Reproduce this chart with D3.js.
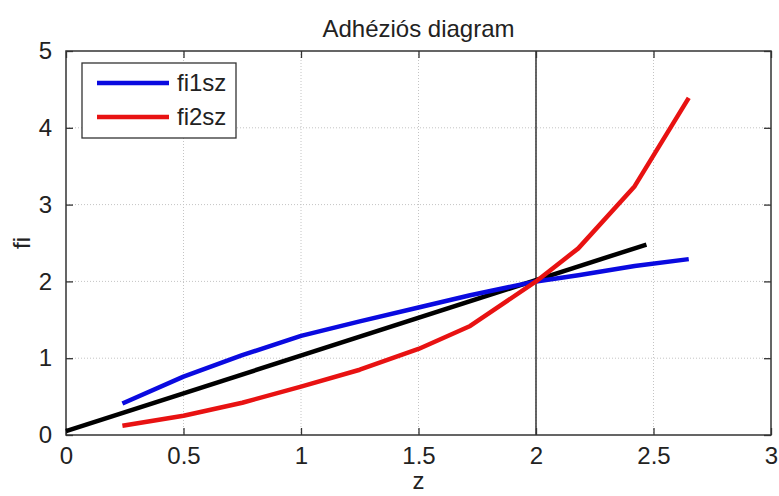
<!DOCTYPE html>
<html>
<head>
<meta charset="utf-8">
<script src="https://cdn.jsdelivr.net/npm/d3@7"></script>
<style>
  body { margin: 0; background: #fff; }
  text { font-family: "Liberation Sans", Arial, sans-serif; fill: #222; }
</style>
</head>
<body>
<div id="chart"></div>
<script>
// values
var zValues = [0.24, 0.5, 0.75, 1.0, 1.25, 1.5, 1.72, 2.0, 2.18, 2.42, 2.65];
var fi1sz = [0.41, 0.76, 1.04, 1.29, 1.48, 1.66, 1.82, 2.0, 2.08, 2.2, 2.29];
var fi2sz = [0.12, 0.25, 0.42, 0.63, 0.85, 1.12, 1.42, 2.0, 2.43, 3.24, 4.39];
var diagZ = [0, 2.47];
var diagFi = [0.05, 2.48];
var xTicks = [0, 0.5, 1, 1.5, 2, 2.5, 3];
var yTicks = [0, 1, 2, 3, 4, 5];
var seriesNames = ["fi1sz", "fi2sz"];

var W = 779, H = 496;
var margin = { top: 51, left: 66, bottom: 61, right: 8 },
    width = W - margin.left - margin.right,
    height = H - margin.top - margin.bottom;

var svg = d3.select("#chart").append("svg")
    .attr("width", W)
    .attr("height", H);

var g = svg.append("g")
    .attr("transform", "translate(" + margin.left + "," + margin.top + ")");

var x = d3.scaleLinear().domain([0, 3]).range([0, width]);
var y = d3.scaleLinear().domain([0, 5]).range([height, 0]);

// dotted grid
g.selectAll(".gx").data(xTicks.slice(1, -1)).enter().append("line")
    .attr("x1", d => x(d)).attr("x2", d => x(d))
    .attr("y1", 0).attr("y2", height)
    .attr("stroke", "#c4c4c4").attr("stroke-dasharray", "1,2");
g.selectAll(".gy").data(yTicks.slice(1, -1)).enter().append("line")
    .attr("x1", 0).attr("x2", width)
    .attr("y1", d => y(d)).attr("y2", d => y(d))
    .attr("stroke", "#c4c4c4").attr("stroke-dasharray", "1,2");

// vertical line at z = 2
g.append("line")
    .attr("x1", x(2)).attr("x2", x(2))
    .attr("y1", y(0)).attr("y2", y(5))
    .attr("stroke", "#333").attr("stroke-width", 1.5);

// axes (matlab style, inward ticks on all sides)
var tk = 7;
var fmt = d3.format("~g");
var xAxisB = d3.axisBottom(x).tickValues(xTicks).tickSizeInner(-tk).tickSizeOuter(0).tickPadding(12).tickFormat(fmt);
var xAxisT = d3.axisTop(x).tickValues(xTicks).tickSizeInner(-tk).tickSizeOuter(0).tickFormat("");
var yAxisL = d3.axisLeft(y).tickValues(yTicks).tickSizeInner(-tk).tickSizeOuter(0).tickPadding(14).tickFormat(fmt);
var yAxisR = d3.axisRight(y).tickValues(yTicks).tickSizeInner(-tk).tickSizeOuter(0).tickFormat("");

g.append("g").attr("class", "axis").attr("transform", "translate(0," + height + ")").call(xAxisB);
g.append("g").attr("class", "axis").call(xAxisT);
g.append("g").attr("class", "axis").call(yAxisL);
g.append("g").attr("class", "axis").attr("transform", "translate(" + width + ",0)").call(yAxisR);

g.selectAll(".axis .domain").remove();
g.selectAll(".axis line").attr("stroke", "#333").attr("stroke-width", 1.3);
g.selectAll(".axis text")
    .style("font-size", "24px")
    .style("font-family", "'Liberation Sans', Arial, sans-serif")
    .attr("fill", "#222");

g.append("rect")
    .attr("width", width).attr("height", height)
    .attr("fill", "none").attr("stroke", "#333").attr("stroke-width", 1.5);

// curves
var line = d3.line()
    .x(d => x(d[0]))
    .y(d => y(d[1]));

g.append("path")
    .datum(d3.zip(diagZ, diagFi))
    .attr("d", line)
    .attr("fill", "none").attr("stroke", "#000").attr("stroke-width", 4.5);

g.append("path")
    .datum(d3.zip(zValues, fi1sz))
    .attr("d", line)
    .attr("fill", "none").attr("stroke", "#0a0ae0").attr("stroke-width", 4.5)
    .attr("stroke-linejoin", "round");

g.append("path")
    .datum(d3.zip(zValues, fi2sz))
    .attr("d", line)
    .attr("fill", "none").attr("stroke", "#e81212").attr("stroke-width", 4.5)
    .attr("stroke-linejoin", "round");

// legend
var colors = ["#0a0ae0", "#e81212"];
var leg = svg.append("g").attr("transform", "translate(82,63)");
leg.append("rect")
    .attr("width", 154).attr("height", 75)
    .attr("fill", "#fff").attr("stroke", "#333").attr("stroke-width", 1.3);
seriesNames.forEach(function (name, i) {
    leg.append("line")
        .attr("x1", 15).attr("x2", 87)
        .attr("y1", 20 + i * 34).attr("y2", 20 + i * 34)
        .attr("stroke", colors[i]).attr("stroke-width", 4.5);
    leg.append("text")
        .attr("x", 95).attr("y", 20 + i * 34)
        .attr("dy", "0.35em")
        .style("font-size", "24px")
        .text(name);
});

// titles
svg.append("text")
    .attr("x", margin.left + width / 2).attr("y", 37)
    .attr("text-anchor", "middle")
    .style("font-size", "24px")
    .text("Adhéziós diagram");

svg.append("text")
    .attr("x", margin.left + width / 2).attr("y", 489)
    .attr("text-anchor", "middle")
    .style("font-size", "24px")
    .text("z");

svg.append("text")
    .attr("transform", "translate(30," + (margin.top + height / 2) + ") rotate(-90)")
    .attr("text-anchor", "middle")
    .style("font-size", "24px")
    .text("fi");
</script>
</body>
</html>
